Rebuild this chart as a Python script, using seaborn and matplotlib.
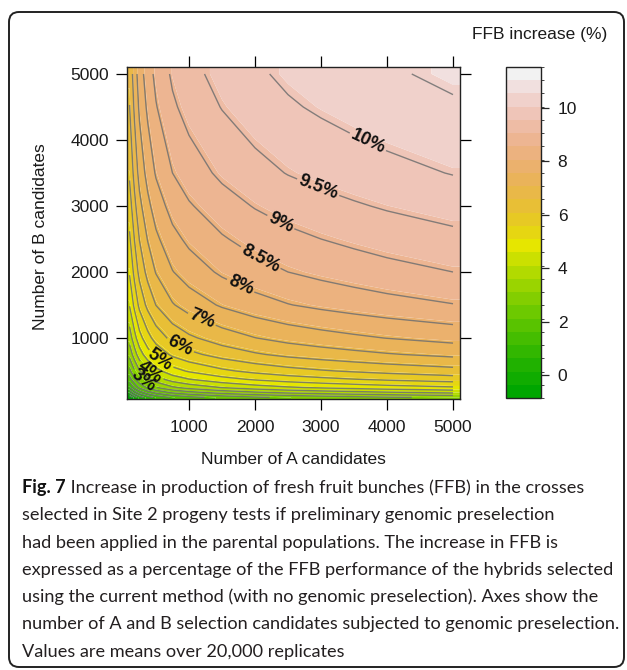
import colorsys
import numpy as np
import matplotlib
matplotlib.use("Agg")
import matplotlib.pyplot as plt
from matplotlib.patches import FancyBboxPatch
from matplotlib.transforms import IdentityTransform
import matplotlib.cm as mcm
from matplotlib.colors import ListedColormap, BoundaryNorm
import seaborn as sns

# ---------------- data ----------------
n_A = [100, 175, 250, 375, 500, 750, 1000, 1500, 2000, 2500, 3000, 3500, 4000, 4500, 5000]
n_B = [100, 175, 250, 375, 500, 750, 1000, 1500, 2000, 2500, 3000, 3500, 4000, 4500, 5000]

# rows follow n_B, columns follow n_A ; FFB increase (%)
ffb_increase = [
    [-0.85, -0.25, 0.25, 0.76, 1.13, 1.58, 1.84, 2.18, 2.42, 2.60, 2.73, 2.84, 2.94, 3.02, 3.10],
    [0.15, 0.75, 1.25, 1.76, 2.13, 2.58, 2.84, 3.18, 3.42, 3.60, 3.73, 3.84, 3.94, 4.02, 4.10],
    [0.99, 1.59, 2.09, 2.60, 2.97, 3.42, 3.68, 4.02, 4.26, 4.44, 4.57, 4.68, 4.78, 4.86, 4.94],
    [1.80, 2.40, 2.90, 3.41, 3.78, 4.23, 4.49, 4.83, 5.07, 5.25, 5.38, 5.49, 5.59, 5.67, 5.75],
    [2.37, 2.97, 3.47, 3.98, 4.35, 4.80, 5.06, 5.40, 5.64, 5.82, 5.95, 6.06, 6.16, 6.24, 6.32],
    [3.17, 3.77, 4.27, 4.78, 5.15, 5.60, 5.86, 6.20, 6.44, 6.62, 6.75, 6.86, 6.96, 7.04, 7.12],
    [3.72, 4.32, 4.82, 5.33, 5.70, 6.15, 6.41, 6.75, 6.99, 7.17, 7.30, 7.41, 7.51, 7.59, 7.67],
    [4.53, 5.13, 5.63, 6.14, 6.51, 6.96, 7.22, 7.56, 7.80, 7.98, 8.11, 8.22, 8.32, 8.40, 8.48],
    [5.05, 5.65, 6.15, 6.66, 7.03, 7.48, 7.74, 8.08, 8.32, 8.50, 8.63, 8.74, 8.84, 8.92, 9.00],
    [5.42, 6.02, 6.52, 7.03, 7.40, 7.85, 8.11, 8.45, 8.69, 8.87, 9.00, 9.11, 9.21, 9.29, 9.37],
    [5.76, 6.36, 6.86, 7.37, 7.74, 8.19, 8.45, 8.79, 9.03, 9.21, 9.34, 9.45, 9.55, 9.63, 9.71],
    [6.07, 6.67, 7.17, 7.68, 8.05, 8.50, 8.76, 9.10, 9.34, 9.52, 9.65, 9.76, 9.86, 9.94, 10.02],
    [6.28, 6.88, 7.38, 7.89, 8.26, 8.71, 8.97, 9.31, 9.55, 9.73, 9.86, 9.97, 10.07, 10.15, 10.23],
    [6.49, 7.09, 7.59, 8.10, 8.47, 8.92, 9.18, 9.52, 9.76, 9.94, 10.07, 10.18, 10.28, 10.36, 10.44],
    [6.65, 7.25, 7.75, 8.26, 8.63, 9.08, 9.34, 9.68, 9.92, 10.10, 10.23, 10.34, 10.44, 10.52, 10.60],
]

contour_levels = [-0.5, 0, 0.5, 1, 1.5, 2, 2.5, 3, 3.5, 4, 4.5, 5, 5.5, 6, 6.5,
                  7, 7.5, 8, 8.5, 9, 9.5, 10, 10.5]
labelled_levels = [3, 4, 5, 6, 7, 8, 8.5, 9, 9.5, 10]
color_range = [-0.86, 11.54]
n_color_bands = 25
axis_ticks = [1000, 2000, 3000, 4000, 5000]
cbar_ticks = [0, 2, 4, 6, 8, 10]

x_title = "Number of A candidates"
y_title = "Number of B candidates"
cbar_title = "FFB increase (%)"
caption_bold = "Fig. 7"
caption_lines = [
    " Increase in production of fresh fruit bunches (FFB) in the crosses",
    "selected in Site 2 progeny tests if preliminary genomic preselection",
    "had been applied in the parental populations. The increase in FFB is",
    "expressed as a percentage of the FFB performance of the hybrids selected",
    "using the current method (with no genomic preselection). Axes show the",
    "number of A and B selection candidates subjected to genomic preselection.",
    "Values are means over 20,000 replicates",
]

# --------------- layout / style -----------------
label_anchor_points = [(3700, 3950), (2985, 3350), (2410, 2790), (2120, 2290),
                       (1800, 1830), (1210, 1320), (894, 940), (606, 742),
                       (455, 545), (364, 440)]

sns.set_style("ticks")
plt.rcParams["font.family"] = ["Liberation Sans", "DejaVu Sans"]

W, H = 627, 670
fig = plt.figure(figsize=(W / 100, H / 100), dpi=100)
fig.patch.set_facecolor("white")


def px_axes(l, t, r, b):
    return [l / W, 1 - b / H, (r - l) / W, (b - t) / H]


ax = fig.add_axes(px_axes(127, 67, 460, 399))
cax = fig.add_axes(px_axes(506, 67, 541, 398))


def terrain_colors(n):
    k = n // 2
    cols = []
    for i in range(k):
        t = i / (k - 1)
        cols.append(colorsys.hsv_to_rgb(4 / 12 - 2 / 12 * t, 1.0, 0.65 + 0.25 * t))
    m = n - k + 1
    for i in range(1, m):
        t = i / (m - 1)
        cols.append(colorsys.hsv_to_rgb(2 / 12 * (1 - t), 1 - t, 0.9 + 0.05 * t))
    return cols


cols = terrain_colors(n_color_bands)
breaks = np.linspace(color_range[0], color_range[1], n_color_bands + 1)
cmap = ListedColormap(cols)
norm = BoundaryNorm(breaks, n_color_bands)

Z = np.array(ffb_increase, dtype=float)
xs = np.array(n_A, dtype=float)
ys = np.array(n_B, dtype=float)
xlim = (61, 5106)
ylim = (76, 5106)

# fill extends the edge cells to the panel border, as a level plot does
xp = np.concatenate([[xlim[0]], xs, [xlim[1]]])
yp = np.concatenate([[ylim[0]], ys, [ylim[1]]])
Zp = np.pad(Z, 1, mode="edge")
ax.contourf(xp, yp, Zp, levels=breaks, colors=cols, antialiased=True)

line_kw = dict(colors="#707070", linewidths=1.0, alpha=0.85)
plain_levels = [v for v in contour_levels if v not in labelled_levels]
ax.contour(xs, ys, Z, levels=plain_levels, **line_kw)
cs_lab = ax.contour(xs, ys, Z, levels=labelled_levels, **line_kw)
with plt.rc_context({"font.weight": "bold"}):
    lbls = cs_lab.clabel(inline=True, inline_spacing=2,
                         fmt=lambda v: f"{v:g}%", fontsize=13, colors="black",
                         manual=label_anchor_points)
for t in lbls:
    t.set_fontweight("bold")
    t.set_color("#111111")

ax.set_xlim(*xlim)
ax.set_ylim(*ylim)
ax.set_xticks(axis_ticks)
ax.set_yticks(axis_ticks)
ax.tick_params(direction="out", length=8, width=0.9, color="black",
               top=True, right=True, labeltop=False, labelright=False,
               labelsize=12.5, labelcolor="#1a1a1a")
ax.tick_params(axis="x", pad=7)
ax.tick_params(axis="y", pad=5)
for sp in ax.spines.values():
    sp.set_visible(True)
    sp.set_linewidth(1.0)
    sp.set_color("#222222")
ax.set_xlabel("")
ax.set_ylabel("")

sm = mcm.ScalarMappable(norm=norm, cmap=cmap)
cb = fig.colorbar(sm, cax=cax, orientation="vertical", ticks=cbar_ticks)
cb.outline.set_linewidth(1.0)
cb.outline.set_edgecolor("#222222")
cax.tick_params(direction="out", length=6, width=0.9, labelsize=12.5, pad=6,
                labelcolor="#1a1a1a")
cax.set_yticklabels([f"{v:g}" for v in cbar_ticks])

fig.text(293 / W, 1 - 459 / H, x_title, ha="center", va="center",
         fontsize=12.5, color="#1a1a1a")
fig.text(41 / W, 1 - 237 / H, y_title, ha="center", va="center",
         rotation=90, fontsize=12.5, color="#1a1a1a")
fig.text(607 / W, 1 - 35 / H, cbar_title, ha="right", va="center",
         fontsize=12.5, color="#1a1a1a")

# caption
cap_font = ["Lato", "DejaVu Sans"]
renderer = fig.canvas.get_renderer()
probe = fig.text(0, 0, caption_lines[5], fontsize=10, family=cap_font)
wid = probe.get_window_extent(renderer).width
probe.remove()
cap_size = 10 * 597 / wid
x0 = 22
y_first = 488
spacing = 27.3
tb = fig.text(x0 / W, 1 - y_first / H, caption_bold, fontsize=cap_size,
              family=cap_font, fontweight="bold", va="center", ha="left",
              color="#111111")
bw = tb.get_window_extent(renderer).width
fig.text((x0 + bw) / W, 1 - y_first / H, caption_lines[0], fontsize=cap_size,
         family=cap_font, va="center", ha="left", color="#231f20")
for i, line in enumerate(caption_lines[1:], start=1):
    fig.text(x0 / W, 1 - (y_first + i * spacing) / H, line, fontsize=cap_size,
             family=cap_font, va="center", ha="left", color="#231f20")

# rounded frame around the whole figure
frame = FancyBboxPatch((9, 3), 615, 655, boxstyle="round,pad=0,rounding_size=10",
                       transform=IdentityTransform(), fill=False,
                       edgecolor="#222222", linewidth=1.4)
fig.add_artist(frame)

fig.savefig("out.png", dpi=100)
